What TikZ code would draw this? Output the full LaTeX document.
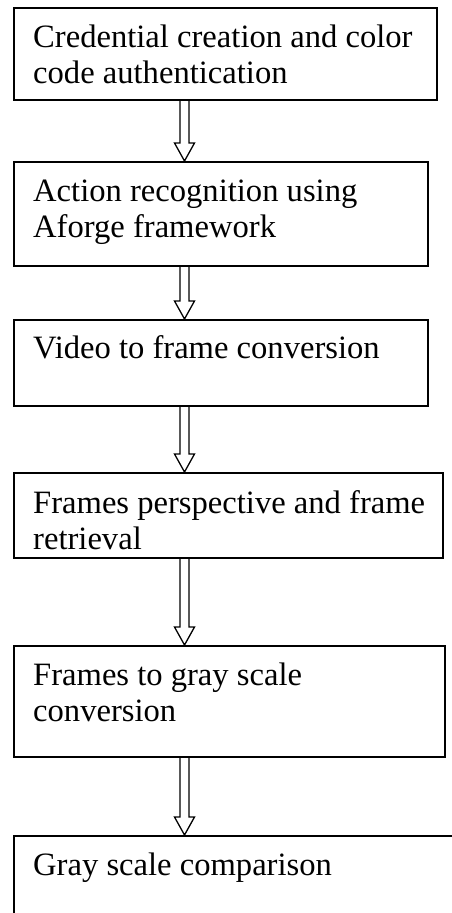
\documentclass[tikz,border=0pt]{standalone}
\usepackage{fontspec}
\setmainfont{Liberation Serif}
\usetikzlibrary{calc}
\tikzset{
  box/.style={draw=black, line width=2.2pt, rectangle, anchor=north west, inner sep=0pt},
  txt/.style={anchor=base west, align=left, inner sep=0pt, font=\fontsize{32.6}{36.5}\selectfont},
  arr/.style={draw=black, line width=1.3pt, line join=miter, fill=white}
}
\newcommand{\harrow}[2]{%
  \draw[arr] let \p1=(#1), \p2=(#2) in
    (\x1-4.5pt,\y1) -- (\x1-4.5pt,\y2+18pt) -- (\x1-10pt,\y2+18pt) -- (\x1,\y2)
    -- (\x1+10pt,\y2+18pt) -- (\x1+4.5pt,\y2+18pt) -- (\x1+4.5pt,\y1);}
\begin{document}
\begin{tikzpicture}[x=1pt,y=1pt]
\useasboundingbox (0,0) rectangle (452,-913);
\clip (0,0) rectangle (452,-913);
\coordinate (ax) at (184.5,0);
% boxes
\node[box, minimum width=423pt, minimum height=92pt]  (b1) at (13,-7)   {};
\node[box, minimum width=414pt, minimum height=104pt] (b2) at (13,-161) {};
\node[box, minimum width=414pt, minimum height=86pt]  (b3) at (13,-319) {};
\node[box, minimum width=429pt, minimum height=85pt]  (b4) at (13,-472) {};
\node[box, minimum width=431pt, minimum height=111pt] (b5) at (13,-645) {};
\node[box, minimum width=470pt, minimum height=110pt] (b6) at (13,-835) {};
% texts (base anchor = baseline of the last line)
\node[txt] (t1) at (33,-83.5)  {Credential creation and color\\code authentication};
\node[txt] (t2) at (33,-237.5) {Action recognition using\\Aforge framework};
\node[txt] (t3) at (33,-358)   {Video to frame conversion};
\node[txt] (t4) at (33,-549.5) {Frames perspective and frame\\retrieval};
\node[txt] (t5) at (33,-721.5) {Frames to gray scale\\conversion};
\node[txt] (t6) at (33,-875)   {Gray scale comparison};
% arrows
\harrow{b1.south -| ax}{b2.north -| ax}
\harrow{b2.south -| ax}{b3.north -| ax}
\harrow{b3.south -| ax}{b4.north -| ax}
\harrow{b4.south -| ax}{b5.north -| ax}
\harrow{b5.south -| ax}{b6.north -| ax}
\end{tikzpicture}
\end{document}
